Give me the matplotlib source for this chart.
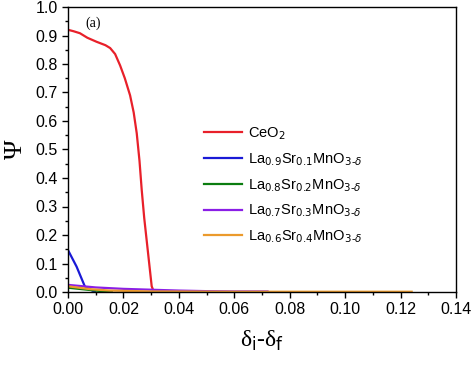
import matplotlib
matplotlib.use('Agg')
import matplotlib.pyplot as plt
from matplotlib.ticker import MultipleLocator, FormatStrFormatter
from matplotlib.font_manager import FontProperties

ceo2_x = [0.0, 0.002, 0.0043, 0.007, 0.0103, 0.0135, 0.0152, 0.017, 0.0188, 0.0205,
          0.0224, 0.0237, 0.0248, 0.0258, 0.0266, 0.0275, 0.0284, 0.0293, 0.0302, 0.031]
ceo2_y = [0.92, 0.915, 0.908, 0.892, 0.878, 0.866, 0.856, 0.835, 0.795, 0.75,
          0.69, 0.63, 0.557, 0.46, 0.358, 0.26, 0.18, 0.10, 0.02, 0.0]

lsm91_x = [0.0, 0.0031, 0.0061, 0.0097]
lsm91_y = [0.147, 0.089, 0.019, 0.0]

lsm82_x = [0.0, 0.005, 0.010, 0.0158]
lsm82_y = [0.015, 0.010, 0.005, 0.0]

lsm73_x = [0.0, 0.01, 0.02, 0.03, 0.04, 0.05, 0.06, 0.072]
lsm73_y = [0.025, 0.016, 0.011, 0.008, 0.005, 0.003, 0.002, 0.002]

lsm64_x = [0.0, 0.008, 0.015, 0.03, 0.06, 0.09, 0.124]
lsm64_y = [0.02, 0.01, 0.005, 0.002, 0.001, 0.001, 0.001]

labels = ['CeO$_2$',
          r'La$_{0.9}$Sr$_{0.1}$MnO$_{3\text{-}\delta}$',
          r'La$_{0.8}$Sr$_{0.2}$MnO$_{3\text{-}\delta}$',
          r'La$_{0.7}$Sr$_{0.3}$MnO$_{3\text{-}\delta}$',
          r'La$_{0.6}$Sr$_{0.4}$MnO$_{3\text{-}\delta}$']
colors = ['#e8202a', '#1a1ad6', '#0b7d10', '#8a1ee6', '#eb9a2c']

plt.rcParams['font.family'] = ['Liberation Sans', 'DejaVu Sans']

fig = plt.figure(figsize=(4.77, 3.78), dpi=100)
ax = fig.add_axes([68/477, 1-292/378, 388/477, 285/378])

series = [(ceo2_x, ceo2_y), (lsm91_x, lsm91_y), (lsm82_x, lsm82_y),
          (lsm73_x, lsm73_y), (lsm64_x, lsm64_y)]
for (xs, ys), lab, c in zip(series, labels, colors):
    ax.plot(xs, ys, color=c, lw=1.6, label=lab)

ax.set_xlim(0, 0.14)
ax.set_ylim(0, 1.0)
ax.xaxis.set_major_locator(MultipleLocator(0.02))
ax.xaxis.set_minor_locator(MultipleLocator(0.01))
ax.yaxis.set_major_locator(MultipleLocator(0.1))
ax.yaxis.set_minor_locator(MultipleLocator(0.05))
ax.xaxis.set_major_formatter(FormatStrFormatter('%.2f'))
ax.yaxis.set_major_formatter(FormatStrFormatter('%.1f'))
ax.tick_params(which='major', direction='out', length=4.5, width=1, labelsize=11.5, pad=3)
ax.tick_params(which='minor', direction='out', length=2.5, width=1)
for s in ax.spines.values():
    s.set_linewidth(1)

ax.set_ylabel('Ψ', family='Liberation Serif', fontsize=19, labelpad=6)
xl = ax.set_xlabel(r'δ$_\mathsf{i}$-δ$_\mathsf{f}$', family='Liberation Serif',
                   fontsize=17, labelpad=8)
xl.set_math_fontfamily('dejavusans')

ax.text(0.045, 0.965, '(a)', transform=ax.transAxes, family='Liberation Serif',
        fontsize=10, va='top')

leg = ax.legend(loc='upper left', bbox_to_anchor=(0.335, 0.605), frameon=False,
                prop=FontProperties(family='Liberation Sans', size=10.5, math_fontfamily='dejavusans'),
                handlelength=2.6, handletextpad=0.4, labelspacing=0.62, borderaxespad=0)

fig.savefig('out.png', dpi=100)
